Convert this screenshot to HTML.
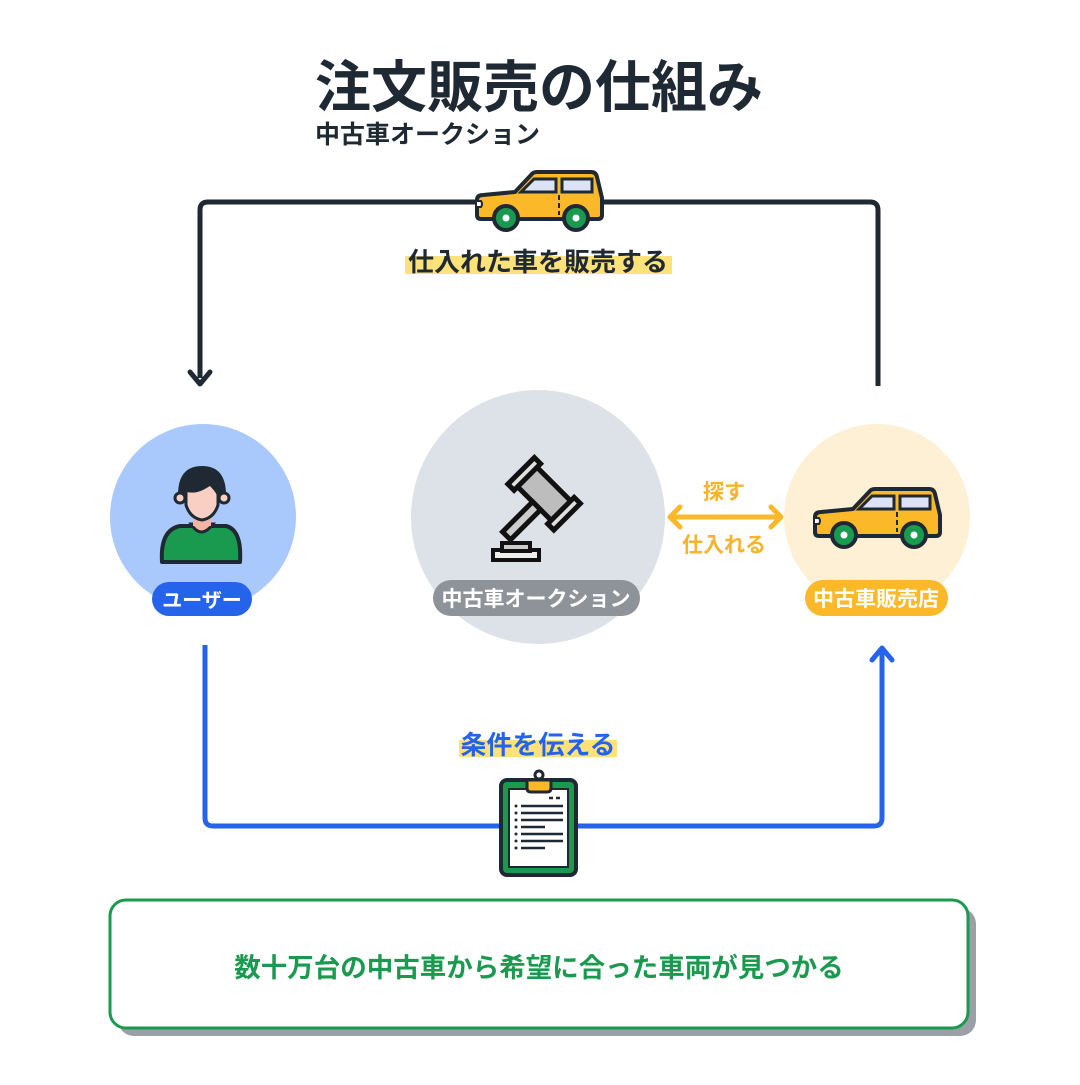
<!DOCTYPE html>
<html><head><meta charset="utf-8"><style>
body{margin:0;background:#fff;}
svg text{font-family:"Liberation Sans","Noto Sans CJK JP",sans-serif;font-weight:bold;}
</style></head><body>
<svg width="1080" height="1080" viewBox="0 0 1080 1080" xmlns="http://www.w3.org/2000/svg">
<defs>
<g id="car">
<path d="M2,30 Q2,25 8,25 L40,22 L56,5 Q58,2 62,2 L116,2 Q121,2 122,7 L127,28 L127,45 Q127,49 123,49 L6,49 Q2,49 2,45 Z" fill="#fbb829" stroke="#1f2933" stroke-width="4" stroke-linejoin="round"/>
<path d="M46,22 L59,9 L81,9 L81,22 Z" fill="#dde3f6" stroke="#1f2933" stroke-width="3"/>
<rect x="87" y="9" width="30" height="13" fill="#dde3f6" stroke="#1f2933" stroke-width="3"/>
<line x1="84" y1="25" x2="84" y2="45" stroke="#1f2933" stroke-width="2" stroke-dasharray="5,3"/>
<path d="M2,31 L6,31 Q8,34 6,37 L2,37" fill="#fff" stroke="#1f2933" stroke-width="2"/>
<circle cx="31" cy="48" r="12" fill="#1a9a4e" stroke="#1f2933" stroke-width="4"/>
<circle cx="31" cy="48" r="3.5" fill="#fff"/>
<circle cx="101" cy="48" r="12" fill="#1a9a4e" stroke="#1f2933" stroke-width="4"/>
<circle cx="101" cy="48" r="3.5" fill="#fff"/>
</g>
</defs>

<text x="315" y="107" font-size="56" fill="#1f2933">注文販売の仕組み</text>
<text x="315" y="143" font-size="25" fill="#1f2933">中古車オークション</text>

<!-- top connector -->
<path d="M200,378 V210 Q200,202 208,202 H870 Q878,202 878,210 V386" fill="none" stroke="#1f2933" stroke-width="5"/>
<path d="M190,372 L200,384 L210,372" fill="none" stroke="#1f2933" stroke-width="5" stroke-linecap="round" stroke-linejoin="round"/>
<use href="#car" x="475" y="170"/>
<rect x="405" y="256" width="267" height="18" fill="#fde27a"/>
<text x="538" y="271" font-size="26" fill="#1f2933" text-anchor="middle">仕入れた車を販売する</text>

<!-- circles -->
<circle cx="203" cy="517" r="93" fill="#a9c8fb"/>
<circle cx="538" cy="517" r="127" fill="#dde2e9"/>
<circle cx="877" cy="517" r="93" fill="#fdf0d5"/>

<!-- user -->
<path d="M162,562 Q160,530 180,526 L226,526 Q242,530 240,562 Z" fill="#1a9a4e" stroke="#1f2933" stroke-width="4" stroke-linejoin="round"/>
<path d="M191,524 Q201,540 213,524 Z" fill="#f4b6a4" stroke="#1f2933" stroke-width="3"/>
<rect x="193" y="510" width="18" height="16" fill="#f4b6a4"/>
<path d="M178,495 Q178,466 202,466 Q226,466 226,495 L226,500 L178,500 Z" fill="#1f2933"/>
<circle cx="180" cy="498" r="5" fill="#f9cfc4" stroke="#1f2933" stroke-width="3"/>
<circle cx="224" cy="498" r="5" fill="#f9cfc4" stroke="#1f2933" stroke-width="3"/>
<path d="M186,490 Q196,494 210,484 Q216,490 218,494 L218,505 Q214,518 202,520 Q190,518 186,505 Z" fill="#f9cfc4" stroke="#1f2933" stroke-width="3"/>
<rect x="152" y="582" width="100" height="34" rx="17" fill="#2563eb"/>
<text x="202" y="607" font-size="20" fill="#fff" text-anchor="middle">ユーザー</text>

<!-- gavel -->
<g transform="translate(545,500) rotate(45) scale(1.25)">
<rect x="-24" y="-14" width="40" height="22" fill="#bdbdbd" stroke="#111" stroke-width="4"/>
<rect x="-30" y="-18" width="7" height="30" fill="#e0e0e0" stroke="#111" stroke-width="4"/>
<rect x="15" y="-18" width="7" height="30" fill="#e0e0e0" stroke="#111" stroke-width="4"/>
<rect x="-6" y="8" width="9" height="34" fill="#ccc" stroke="#111" stroke-width="4"/>
</g>
<rect x="493" y="550" width="46" height="10" fill="#eee" stroke="#111" stroke-width="4"/>
<rect x="502" y="543" width="28" height="8" fill="#ccc" stroke="#111" stroke-width="4"/>
<rect x="433" y="580" width="207" height="36" rx="18" fill="#8e9299"/>
<text x="536" y="606" font-size="21" fill="#fff" text-anchor="middle">中古車オークション</text>

<!-- orange arrow -->
<line x1="670" y1="517" x2="781" y2="517" stroke="#fbb829" stroke-width="5"/>
<path d="M680,507 L670,517 L680,527 M771,507 L781,517 L771,527" fill="none" stroke="#fbb829" stroke-width="5" stroke-linecap="round" stroke-linejoin="round"/>
<text x="724" y="499" font-size="21" fill="#f7b32b" text-anchor="middle">探す</text>
<text x="724" y="552" font-size="21" fill="#f7b32b" text-anchor="middle">仕入れる</text>

<!-- dealer -->
<use href="#car" x="813" y="487"/>
<rect x="805" y="580" width="143" height="36" rx="18" fill="#fbb829"/>
<text x="876" y="606" font-size="21" fill="#fff" text-anchor="middle">中古車販売店</text>

<!-- blue connector -->
<path d="M205,645 V818 Q205,826 213,826 H874 Q882,826 882,818 V652" fill="none" stroke="#2563eb" stroke-width="5"/>
<path d="M872,660 L882,648 L892,660" fill="none" stroke="#2563eb" stroke-width="5" stroke-linecap="round" stroke-linejoin="round"/>
<rect x="459" y="740" width="158" height="17" fill="#fde27a"/>
<text x="538" y="754" font-size="26" fill="#2563eb" text-anchor="middle">条件を伝える</text>

<!-- clipboard -->
<rect x="501" y="780" width="75" height="95" rx="6" fill="#1a9a4e" stroke="#1f2933" stroke-width="4"/>
<rect x="509" y="789" width="59" height="78" fill="#fff" stroke="#1f2933" stroke-width="2"/>
<circle cx="539" cy="775" r="4" fill="none" stroke="#1f2933" stroke-width="3"/>
<path d="M527,780 H551 V788 Q551,792 547,792 H531 Q527,792 527,788 Z" fill="#fbb829" stroke="#1f2933" stroke-width="3"/>
<g stroke="#1f2933" stroke-width="2.5">
<line x1="549" y1="798" x2="553" y2="798"/><line x1="556" y1="798" x2="560" y2="798"/>
<line x1="521" y1="806" x2="563" y2="806"/><line x1="521" y1="813" x2="563" y2="813"/>
<line x1="521" y1="820" x2="563" y2="820"/><line x1="521" y1="827" x2="545" y2="827"/>
<line x1="521" y1="834" x2="563" y2="834"/><line x1="521" y1="841" x2="563" y2="841"/>
<line x1="521" y1="848" x2="545" y2="848"/>
</g>
<g fill="#1f2933">
<circle cx="516" cy="806" r="1.5"/><circle cx="516" cy="813" r="1.5"/><circle cx="516" cy="820" r="1.5"/><circle cx="516" cy="827" r="1.5"/><circle cx="516" cy="834" r="1.5"/><circle cx="516" cy="841" r="1.5"/><circle cx="516" cy="848" r="1.5"/>
</g>

<!-- bottom box -->
<rect x="118" y="908" width="858" height="128" rx="16" fill="#9aa0a6"/>
<rect x="110" y="900" width="858" height="128" rx="16" fill="#fff" stroke="#1a9a4e" stroke-width="3"/>
<text x="539" y="977" font-size="26.5" fill="#1a9a4e" text-anchor="middle">数十万台の中古車から希望に合った車両が見つかる</text>
</svg>
</body></html>
